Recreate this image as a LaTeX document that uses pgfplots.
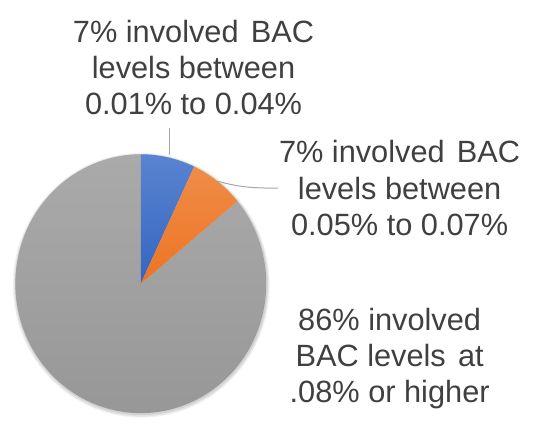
\documentclass[border=0pt]{standalone}
\usepackage{pgfplots}
\pgfplotsset{compat=1.18}
\usepackage{pgfplotstable}
\usepackage{fontspec}
\setmainfont{Liberation Sans}
\definecolor{txt}{HTML}{404040}
\definecolor{lead}{HTML}{A6A6A6}
\definecolor{bluetop}{HTML}{5A84D0}
\definecolor{bluebot}{HTML}{3465C0}
\definecolor{orgtop}{HTML}{F08C48}
\definecolor{orgbot}{HTML}{EC7422}
\definecolor{graytop}{HTML}{AAAAAA}
\definecolor{graybot}{HTML}{969696}
\pgfplotstableread{
slice value
1 7
2 7
3 86
}\piedata
\begin{document}
\begin{tikzpicture}
\pgfplotstablegetelem{0}{value}\of\piedata \pgfmathsetmacro{\vA}{\pgfplotsretval}
\pgfplotstablegetelem{1}{value}\of\piedata \pgfmathsetmacro{\vB}{\pgfplotsretval}
\pgfplotstablegetelem{2}{value}\of\piedata \pgfmathsetmacro{\vC}{\pgfplotsretval}
\pgfmathsetmacro{\aA}{90}
\pgfmathsetmacro{\aB}{\aA-3.6*\vA}
\pgfmathsetmacro{\aC}{\aB-3.6*\vB}
\pgfmathsetmacro{\aD}{\aC-3.6*\vC}
\begin{axis}[width=535bp,height=419bp,scale only axis,
  xmin=0,xmax=535,ymin=0,ymax=419,hide axis,clip=false]
\path (axis cs:0,0) rectangle (axis cs:535,419);
% soft shadow
\fill[black,opacity=0.05] (axis cs:139.5,132.5) ellipse [x radius=129bp, y radius=133bp];
\fill[black,opacity=0.06] (axis cs:139.5,132.5) ellipse [x radius=128bp, y radius=132bp];
\fill[black,opacity=0.08] (axis cs:139.5,133) ellipse [x radius=127bp, y radius=131bp];
% slices
\shade[top color=graytop,bottom color=graybot] (axis cs:139,134) -- ++(\aC:126bp and 130bp)
  arc[start angle=\aC,end angle=\aD,x radius=126bp,y radius=130bp] -- cycle;
\shade[top color=bluetop,bottom color=bluebot] (axis cs:139,134) -- ++(\aA:126bp and 130bp)
  arc[start angle=\aA,end angle=\aB,x radius=126bp,y radius=130bp] -- cycle;
\shade[top color=orgtop,bottom color=orgbot] (axis cs:139,134) -- ++(\aB:126bp and 130bp)
  arc[start angle=\aB,end angle=\aC,x radius=126bp,y radius=130bp] -- cycle;
% leader lines
\draw[lead,line width=1bp] (axis cs:168,290) -- (axis cs:168,263);
\draw[lead,line width=1bp] (axis cs:216,237) .. controls (axis cs:238,231) and (axis cs:250,230) .. (axis cs:277,230);
% labels
\node[anchor=north,align=center,inner sep=0pt,text=txt,font=\fontsize{31}{36.5}\selectfont]
  at (axis cs:192,399) {7\% involved\hspace{0.12em} BAC\\levels between\\0.01\% to 0.04\%};
\node[anchor=north,align=center,inner sep=0pt,text=txt,font=\fontsize{31}{36.5}\selectfont]
  at (axis cs:399,278) {7\% involved\hspace{0.12em} BAC\\levels between\\0.05\% to 0.07\%};
\node[anchor=north,align=center,inner sep=0pt,text=txt,font=\fontsize{31}{36.5}\selectfont]
  at (axis cs:389,110) {86\% involved\\BAC levels\hspace{0.12em} at\\.08\% or higher};
\end{axis}
\end{tikzpicture}
\end{document}
